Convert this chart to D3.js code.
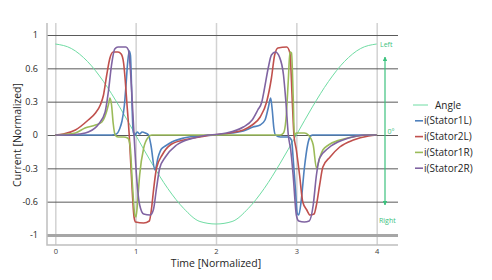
<!DOCTYPE html>
<html>
<head>
<meta charset="utf-8">
<script src="https://cdn.jsdelivr.net/npm/d3@7"></script>
<style>
  body { margin: 0; background: #fff; }
  text { font-family: "Open Sans", "DejaVu Sans", sans-serif; }
</style>
</head>
<body>
<div class="container"></div>
<script>
// x ticks / y ticks (gridlines evenly spaced, labels as shown)
var xTicks = [0, 1, 2, 3, 4]
var yTicks = [1, 2 / 3, 1 / 3, 0, -1 / 3, -2 / 3, -1]
var yTickLabels = ['1', '0.6', '0.3', '0', '-0.3', '-0.6', '-1']

var seriesNames = ['Angle', 'i(Stator1L)', 'i(Stator2L)', 'i(Stator1R)', 'i(Stator2R)']
var seriesColors = ['#6fdca3', '#4f81bd', '#c0504d', '#9bbb59', '#8064a2']

// rotor angle
var angleT = [0, 0.2, 0.4, 0.6, 0.8, 1, 1.2, 1.4, 1.6, 1.8, 2, 2.2, 2.4, 2.6, 2.8, 3, 3.2, 3.4, 3.6, 3.8, 4]
var angleV = [0.91, 0.865, 0.736, 0.535, 0.281, 0, -0.281, -0.535, -0.736, -0.865, -0.89,
  -0.865, -0.736, -0.535, -0.281, 0, 0.281, 0.535, 0.736, 0.865, 0.91]

var stator1LT = [0, 0.7, 0.76, 0.8, 0.83, 0.86, 0.88, 0.9, 0.92, 0.935, 0.945, 0.955, 0.97, 0.99,
  1.02, 1.05, 1.08, 1.12, 1.16, 1.19, 1.24, 1.28, 1.32, 1.37, 1.45, 1.6, 1.8, 2,
  2.1, 2.2, 2.34, 2.46, 2.55, 2.61, 2.65, 2.68, 2.7, 2.72, 2.74, 2.8, 2.9, 2.94, 2.96,
  2.99, 3.01, 3.03, 3.06, 3.1, 3.14, 3.17, 3.2, 4]
var stator1LV = [0, 0, 0.01, 0.06, 0.14, 0.3, 0.5, 0.72, 0.84, 0.8, 0.6, 0.3, 0.03, 0,
  0.03, 0.01, 0.03, 0.02, 0, -0.1, -0.35, -0.22, -0.14, -0.11, -0.07, -0.03, -0.01, 0,
  0.01, 0.02, 0.04, 0.08, 0.1, 0.15, 0.27, 0.37, 0.25, 0.07, 0, -0.02, -0.02, -0.05, -0.23,
  -0.56, -0.78, -0.8, -0.66, -0.33, -0.1, -0.02, 0, 0]

var stator2LT = [0, 0.1, 0.25, 0.41, 0.5, 0.56, 0.6, 0.64, 0.68, 0.72, 0.78, 0.82, 0.85, 0.87,
  0.89, 0.92, 0.95, 0.98, 1, 1.1, 1.17, 1.2, 1.22, 1.26, 1.33, 1.43, 1.6, 1.8, 1.95,
  2.1, 2.2, 2.34, 2.45, 2.55, 2.63, 2.69, 2.73, 2.77, 2.88, 2.92, 2.95, 2.97, 3, 3.04,
  3.08, 3.13, 3.17, 3.22, 3.25, 3.29, 3.33, 3.42, 3.54, 3.71, 3.9, 4]
var stator2LV = [0, 0.01, 0.05, 0.15, 0.22, 0.3, 0.4, 0.6, 0.77, 0.83, 0.83, 0.81, 0.72, 0.55,
  0.33, 0, -0.45, -0.82, -0.87, -0.88, -0.86, -0.72, -0.57, -0.33, -0.2, -0.1, -0.05, -0.02, 0,
  0.01, 0.025, 0.05, 0.1, 0.18, 0.33, 0.57, 0.8, 0.87, 0.88, 0.82, 0.33, 0, -0.15, -0.4,
  -0.67, -0.75, -0.8, -0.79, -0.7, -0.5, -0.32, -0.22, -0.12, -0.05, -0.01, 0]

var stator1RT = [0, 0.1, 0.25, 0.37, 0.5, 0.58, 0.62, 0.66, 0.68, 0.7, 0.72, 0.745, 0.78, 0.85,
  0.9, 0.93, 0.96, 0.99, 1.005, 1.03, 1.05, 1.1, 1.16, 1.2,
  2.8, 2.84, 2.87, 2.9, 2.92, 2.94, 2.96, 2.975, 3, 3.05, 3.1, 3.15, 3.21, 3.25, 3.29,
  3.33, 3.4, 3.54, 3.7, 3.9, 4]
var stator1RV = [0, 0.005, 0.02, 0.07, 0.1, 0.13, 0.19, 0.3, 0.37, 0.3, 0.12, 0, -0.02, -0.02,
  -0.03, -0.1, -0.5, -0.8, -0.82, -0.6, -0.4, -0.13, -0.02, 0,
  0, 0.02, 0.15, 0.55, 0.83, 0.82, 0.4, 0, 0.02, 0.02, 0.02, 0, -0.1, -0.33, -0.23,
  -0.15, -0.1, -0.05, -0.02, 0, 0]

var stator2RT = [0, 0.15, 0.3, 0.41, 0.54, 0.62, 0.66, 0.7, 0.74, 0.78, 0.88, 0.91, 0.93, 0.95,
  0.98, 1.01, 1.05, 1.1, 1.18, 1.22, 1.26, 1.3, 1.37, 1.51, 1.72, 1.9,
  2, 2.13, 2.34, 2.45, 2.52, 2.57, 2.6, 2.65, 2.69, 2.74, 2.79, 2.84, 2.87, 2.9, 2.93,
  2.96, 3, 3.03, 3.1, 3.16, 3.21, 3.25, 3.29, 3.4, 3.58, 3.9, 4]
var stator2RV = [0, 0, 0.01, 0.03, 0.11, 0.23, 0.43, 0.7, 0.86, 0.88, 0.88, 0.85, 0.7, 0.45,
  0, -0.4, -0.7, -0.79, -0.8, -0.75, -0.53, -0.33, -0.22, -0.1, -0.03, 0,
  0.005, 0.02, 0.08, 0.15, 0.25, 0.33, 0.45, 0.67, 0.8, 0.83, 0.78, 0.6, 0.33, 0, -0.15,
  -0.4, -0.8, -0.86, -0.87, -0.86, -0.7, -0.4, -0.23, -0.13, -0.05, 0, 0]

var seriesT = [angleT, stator1LT, stator2LT, stator1RT, stator2RT]
var seriesV = [angleV, stator1LV, stator2LV, stator1RV, stator2RV]

var width = 492, height = 280
var plotLeft = 47, plotRight = 398, plotTop = 23, plotBottom = 245

var x = d3.scaleLinear().domain([0, 4]).range([55.3, 376.7])
var y = d3.scaleLinear().domain([-1, 1]).range([235, 35])

var svg = d3.select('.container')
  .append('svg')
    .attr('width', width)
    .attr('height', height)

// vertical gridlines + x labels
var xAxis = svg.append('g')
  .attr('transform', 'translate(0,' + plotBottom + ')')
  .call(d3.axisBottom(x)
    .tickValues(xTicks)
    .tickFormat(d3.format('d'))
    .tickSize(-(plotBottom - plotTop))
    .tickPadding(4))
xAxis.select('.domain').remove()
xAxis.selectAll('line').attr('stroke', '#d2d2d2').attr('stroke-width', 1.5)
xAxis.selectAll('text').attr('font-size', 7.5).attr('fill', '#404040')

// horizontal gridlines + y labels
var yAxis = svg.append('g')
  .attr('transform', 'translate(' + plotLeft + ',0)')
  .call(d3.axisLeft(y)
    .tickValues(yTicks)
    .tickFormat(function(d, i) { return yTickLabels[i] })
    .tickSize(-(plotRight - plotLeft))
    .tickPadding(9))
yAxis.select('.domain').remove()
yAxis.selectAll('line')
  .attr('stroke', function(d) { return d === -1 ? '#a6a6a6' : '#5a5a5a' })
  .attr('stroke-width', function(d) { return d === -1 ? 3 : 1 })
yAxis.selectAll('text').attr('font-size', 9).attr('fill', '#262626')

// frame
svg.append('path')
  .attr('d', 'M' + plotLeft + ',' + plotTop + 'V' + plotBottom + 'H' + plotRight)
  .attr('fill', 'none')
  .attr('stroke', '#bfbfbf')
  .attr('stroke-width', 1.5)

// series
var line = d3.line()
  .x(function(d) { return x(d[0]) })
  .y(function(d) { return y(d[1]) })
  .curve(d3.curveMonotoneX)

svg.append('g')
  .selectAll('path')
  .data(seriesNames)
  .enter()
  .append('path')
    .attr('d', function(d, i) {
      return line(seriesT[i].map(function(t, j) { return [t, seriesV[i][j]] }))
    })
    .attr('fill', 'none')
    .attr('stroke', function(d, i) { return seriesColors[i] })
    .attr('stroke-width', function(d, i) { return i === 0 ? 1 : 1.6 })

// angle annotation
var annColor = '#3cc27e'
var arrowX = 385
svg.append('defs').append('marker')
    .attr('id', 'head')
    .attr('viewBox', '0 0 10 10')
    .attr('refX', 9)
    .attr('refY', 5)
    .attr('markerWidth', 4)
    .attr('markerHeight', 4)
    .attr('orient', 'auto-start-reverse')
  .append('path')
    .attr('d', 'M0,0L10,5L0,10z')
    .attr('fill', annColor)

svg.append('line')
  .attr('x1', arrowX).attr('x2', arrowX)
  .attr('y1', y(0.78)).attr('y2', y(-0.7))
  .attr('stroke', annColor)
  .attr('stroke-width', 1.2)
  .attr('marker-start', 'url(#head)')
  .attr('marker-end', 'url(#head)')

svg.append('text')
  .attr('x', 380).attr('y', y(0.91) + 3)
  .attr('font-size', 7).attr('fill', annColor)
  .text('Left')
svg.append('text')
  .attr('x', 387.5).attr('y', y(0) - 1.5)
  .attr('font-size', 7).attr('fill', annColor)
  .text('0°')
svg.append('text')
  .attr('x', 379).attr('y', y(-0.85) + 3)
  .attr('font-size', 7).attr('fill', annColor)
  .text('Right')

// legend
var legend = svg.append('g')
  .selectAll('g')
  .data(seriesNames)
  .enter()
  .append('g')
    .attr('transform', function(d, i) { return 'translate(0,' + (105 + i * 15.8) + ')' })

legend.append('line')
  .attr('x1', function(d, i) { return i === 0 ? 413 : 415 })
  .attr('x2', function(d, i) { return i === 0 ? 428 : 423 })
  .attr('stroke', function(d, i) { return seriesColors[i] })
  .attr('stroke-width', function(d, i) { return i === 0 ? 1 : 1.6 })

legend.append('text')
  .attr('x', function(d, i) { return i === 0 ? 435 : 424 })
  .attr('dy', '0.35em')
  .attr('font-size', 10)
  .attr('fill', '#262626')
  .text(function(d) { return d })

// axis titles
svg.append('text')
  .attr('x', 216).attr('y', 267)
  .attr('text-anchor', 'middle')
  .attr('font-size', 10.5)
  .attr('fill', '#262626')
  .text('Time [Normalized]')

svg.append('text')
  .attr('transform', 'translate(21,135) rotate(-90)')
  .attr('text-anchor', 'middle')
  .attr('font-size', 10.5)
  .attr('fill', '#262626')
  .text('Current [Normalized]')
</script>
</body>
</html>
